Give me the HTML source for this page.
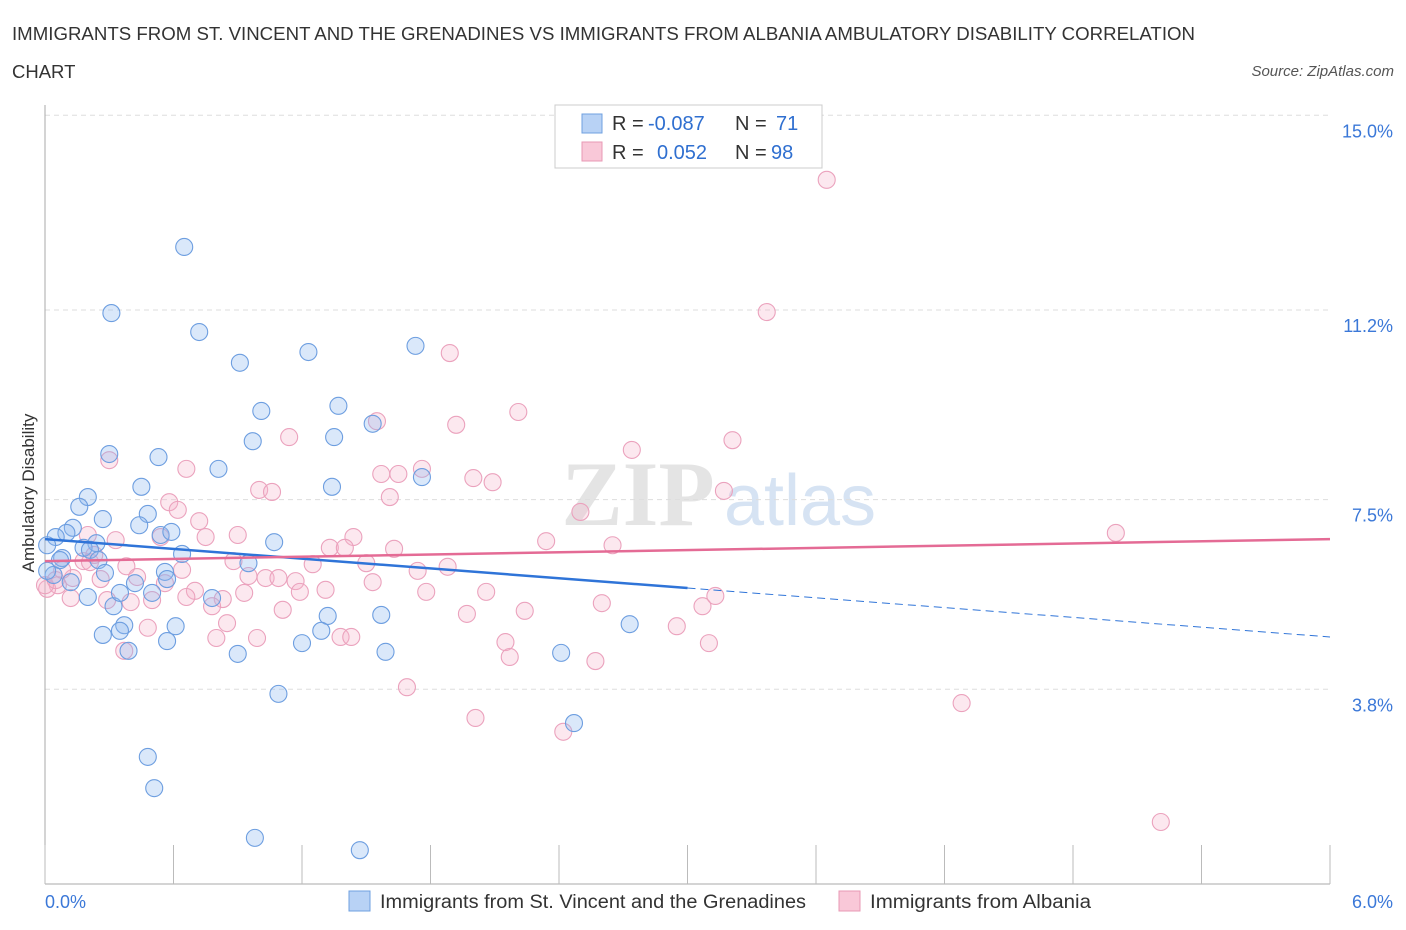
<!DOCTYPE html>
<html><head><meta charset="utf-8">
<style>
body{margin:0;background:#fff;font-family:"Liberation Sans",sans-serif;}
svg{display:block}
</style></head>
<body>
<svg id="chart" width="1406" height="930" viewBox="0 0 1406 930">
<text x="12" y="40" font-size="18" fill="#333" textLength="1183" lengthAdjust="spacingAndGlyphs">IMMIGRANTS FROM ST. VINCENT AND THE GRENADINES VS IMMIGRANTS FROM ALBANIA AMBULATORY DISABILITY CORRELATION</text>
<text x="12" y="78" font-size="18.5" fill="#333">CHART</text>
<text x="1394" y="76" font-size="15" font-style="italic" fill="#555" text-anchor="end">Source: ZipAtlas.com</text>
<text transform="translate(34,493) rotate(-90)" font-size="17" fill="#333" text-anchor="middle">Ambulatory Disability</text>
<g>
<text x="638" y="525" font-size="92" fill="#e4e4e4" font-family="Liberation Serif" text-anchor="middle" font-weight="bold">ZIP</text>
<text x="800" y="525" font-size="72" fill="#d6e3f3" text-anchor="middle">atlas</text>
</g>
<g id="grid"></g><g id="ticks"></g><g id="pts"></g><g id="lines"></g>
<g>
<rect x="555" y="105" width="267" height="63" fill="#fff" stroke="#ccc"/>
<rect x="582" y="114" width="20" height="19" fill="#b8d2f5" stroke="#6fa0e0"/>
<rect x="582" y="142" width="20" height="19" fill="#f9c8d8" stroke="#e899b5"/>
<text y="130" font-size="20" fill="#333"><tspan x="612">R =</tspan><tspan x="648" fill="#2f6fd0">-0.087</tspan><tspan x="735">N =</tspan><tspan x="776" fill="#2f6fd0">71</tspan></text>
<text y="159" font-size="20" fill="#333"><tspan x="612">R =</tspan><tspan x="657" fill="#2f6fd0">0.052</tspan><tspan x="735">N =</tspan><tspan x="771" fill="#2f6fd0">98</tspan></text>
</g>
<g>
<rect x="349" y="891" width="21" height="20" fill="#b8d2f5" stroke="#6fa0e0"/>
<text x="380" y="908" font-size="19" fill="#333" textLength="426" lengthAdjust="spacingAndGlyphs">Immigrants from St. Vincent and the Grenadines</text>
<rect x="839" y="891" width="21" height="20" fill="#f9c8d8" stroke="#e899b5"/>
<text x="870" y="908" font-size="19" fill="#333" textLength="221" lengthAdjust="spacingAndGlyphs">Immigrants from Albania</text>
</g>
</svg>
<script>
const yTicks=[15.0,11.2,7.5,3.8];
const yTickLabels=["15.0%","11.2%","7.5%","3.8%"];
const xTickCount=10;
const xLabels=["0.0%","6.0%"];
const blueX=[0.65,0.31,0.72,0.91,1.23,1.73,1.01,1.37,1.53,0.97,1.35,0.30,0.53,0.81,0.45,1.34,1.76,0.20,0.16,0.48,0.44,0.27,0.13,0.10,0.24,0.05,0.01,0.18,0.21,0.54,0.59,0.64,1.07,0.25,0.95,0.08,0.12,0.28,0.56,0.42,0.57,0.20,0.50,0.78,0.32,1.32,1.57,0.61,0.37,0.35,1.29,0.27,0.57,1.20,0.90,0.39,1.59,2.41,2.73,1.09,2.47,0.48,0.51,0.98,1.47,0.04,0.01,0.35,0.07];
const blueY=[12.43,11.14,10.77,10.17,10.38,10.50,9.23,9.33,8.98,8.64,8.72,8.39,8.33,8.10,7.75,7.75,7.94,7.55,7.36,7.22,7.00,7.12,6.95,6.85,6.65,6.77,6.61,6.56,6.52,6.81,6.87,6.44,6.67,6.32,6.26,6.36,5.89,6.07,6.09,5.87,5.95,5.60,5.68,5.58,5.42,5.23,5.25,5.03,5.05,4.94,4.94,4.86,4.74,4.70,4.49,4.55,4.53,4.51,5.07,3.71,3.14,2.48,1.87,0.90,0.66,6.03,6.11,5.68,6.32];
const pinkX=[3.65,3.37,1.89,2.21,1.55,1.14,1.92,2.74,3.21,0.30,0.66,1.57,1.65,1.76,2.00,2.09,1.00,1.06,1.61,0.58,3.17,2.50,0.62,0.72,0.90,1.44,0.75,0.54,0.33,0.20,1.33,1.40,1.63,2.34,2.65,5.00,0.18,0.21,0.88,1.25,1.50,1.88,1.74,0.13,0.26,0.06,0.01,0.38,0.43,0.64,0.56,0.95,1.03,1.09,1.17,1.19,1.31,1.53,0.93,0.70,0.83,0.66,0.50,0.40,0.29,0.12,0.78,1.11,1.78,2.06,2.24,2.60,1.97,3.13,3.07,0.85,0.48,0.99,0.80,1.38,1.43,0.37,2.15,2.17,2.57,2.95,3.10,1.69,2.01,2.42,4.28,5.21,0.00,0.05,0.23,0.08];
const pinkY=[13.74,11.16,10.36,9.21,9.03,8.72,8.96,8.47,8.66,8.27,8.10,8.00,8.00,8.10,7.92,7.84,7.69,7.65,7.55,7.45,7.67,7.26,7.30,7.08,6.81,6.77,6.77,6.77,6.71,6.81,6.56,6.56,6.54,6.69,6.61,6.85,6.30,6.28,6.30,6.24,6.26,6.19,6.11,5.97,5.95,5.83,5.76,6.20,5.99,6.13,5.87,6.01,5.97,5.97,5.91,5.70,5.74,5.89,5.68,5.72,5.56,5.60,5.54,5.50,5.54,5.58,5.42,5.35,5.70,5.70,5.33,5.48,5.27,5.62,5.42,5.09,5.00,4.80,4.80,4.82,4.82,4.55,4.72,4.43,4.35,5.03,4.70,3.84,3.24,2.97,3.53,1.21,5.83,5.93,6.42,6.13];
const blueTrend=[6.73,4.82]; const blueSolidEnd=3.0;
const pinkTrend=[6.30,6.73];
const NS="http://www.w3.org/2000/svg";
const X0=45,X1=1330,XMAX=6,YB=884,PPU=51.25;
const sx=v=>X0+v/XMAX*(X1-X0), sy=v=>YB-v*PPU;
function mk(tag,a,parent){const e=document.createElementNS(NS,tag);for(const k in a)e.setAttribute(k,a[k]);parent.appendChild(e);return e;}
const grid=document.getElementById('grid'),ticks=document.getElementById('ticks'),pts=document.getElementById('pts'),lines=document.getElementById('lines');
yTicks.forEach((t,i)=>{
 const g=mk('line',{x1:X0,x2:1330,y1:sy(t),y2:sy(t),stroke:'#ddd','stroke-dasharray':'5,4'},grid);
 
 
 const tx=mk('text',{x:1393,y:sy(t)+22,'font-size':18,fill:'#3b78d8','text-anchor':'end'},ticks);
 tx.textContent=yTickLabels[i];
 
 
});
const ax=mk('line',{x1:X0,x2:X0,y1:105,y2:884,stroke:'#aaa'},ticks);


const xa=mk('line',{x1:X0,x2:1330,y1:884,y2:884,stroke:'#aaa'},ticks);


for(let i=0;i<=xTickCount;i++){
 const v=XMAX*i/xTickCount;
 const t=mk('line',{x1:sx(v),x2:sx(v),y1:845,y2:884,stroke:'#bbb'},ticks);
 
 
}
[[0,'start',45],[XMAX,'end',1393]].forEach((d,i)=>{
 const t=mk('text',{x:d[2],y:908,'font-size':18,fill:'#3b78d8','text-anchor':d[1]},ticks);
 t.textContent=xLabels[i];
 
 
});
function dots(xs,ys,fill,stroke,name){
 xs.forEach((x,i)=>{
  const c=mk('circle',{cx:sx(x),cy:sy(ys[i]),r:8.5,fill:fill,stroke:stroke,'stroke-width':1.1},pts);
  
  
 });
}
dots(pinkX,pinkY,'rgba(246,180,203,0.3)','#eba2bd','albania-point');
dots(blueX,blueY,'rgba(140,182,238,0.32)','#6d9ee0','st-vincent-point');
const bAt=v=>blueTrend[0]+(blueTrend[1]-blueTrend[0])*v/XMAX;
const l1=mk('line',{x1:sx(0),y1:sy(bAt(0)),x2:sx(blueSolidEnd),y2:sy(bAt(blueSolidEnd)),stroke:'#2f74d8','stroke-width':2.5},lines);


const l2=mk('line',{x1:sx(blueSolidEnd),y1:sy(bAt(blueSolidEnd)),x2:sx(XMAX),y2:sy(bAt(XMAX)),stroke:'#2f74d8','stroke-width':1,'stroke-dasharray':'8,5'},lines);


const l3=mk('line',{x1:sx(0),y1:sy(pinkTrend[0]),x2:sx(XMAX),y2:sy(pinkTrend[1]),stroke:'#e46b95','stroke-width':2.5},lines);


</script>
</body></html>
